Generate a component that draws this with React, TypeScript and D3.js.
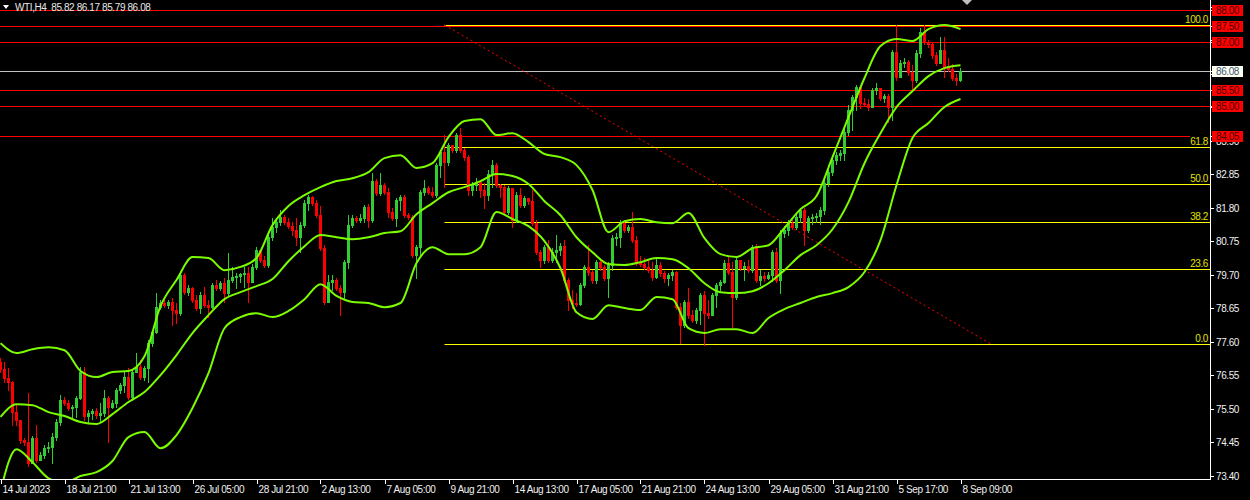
import React from "react";
import * as d3 from "d3";

// WTI H4 candles (open of each bar = close of the bar before)
const firstOpen = 76.97;
const closes = [
  76.75, 76.47, 76.34, 75.40, 75.15, 74.52, 74.46, 73.80, 74.59, 73.90,
  74.05, 74.27, 74.30, 74.62, 75.09, 75.78, 75.68, 75.53, 75.56, 75.84,
  76.66, 75.28, 75.37, 75.43, 75.31, 75.37, 75.84, 75.56, 75.68, 76.09,
  76.25, 76.50, 75.87, 76.66, 76.81, 76.50, 76.78, 77.56, 77.91, 78.69,
  78.82, 78.75, 78.85, 78.60, 78.50, 79.69, 79.16, 79.29, 78.91, 78.66,
  79.07, 78.75, 78.69, 79.38, 79.29, 79.44, 79.13, 79.54, 79.63, 79.67,
  79.73, 79.76, 79.48, 79.95, 80.48, 80.16, 80.01, 80.88, 81.20, 81.35,
  81.51, 81.35, 81.23, 81.10, 80.88, 81.26, 81.95, 82.14, 81.95, 81.57,
  80.54, 78.85, 79.48, 79.54, 79.29, 79.16, 80.10, 81.26, 81.48, 81.42,
  81.48, 81.83, 81.42, 82.64, 82.26, 82.51, 82.29, 81.67, 81.48, 82.04,
  82.14, 81.57, 81.51, 80.32, 80.57, 82.29, 82.42, 82.29, 82.20, 83.14,
  83.55, 83.23, 83.77, 83.61, 84.08, 83.61, 83.39, 82.36, 82.51, 82.61,
  82.36, 82.20, 82.86, 83.14, 82.51, 82.45, 81.67, 82.42, 81.42, 82.20,
  81.89, 82.11, 82.01, 81.32, 80.41, 80.16, 80.57, 80.16, 80.41, 80.48,
  80.60, 79.54, 78.91, 78.82, 78.79, 79.38, 79.95, 79.79, 79.54, 80.10,
  79.95, 79.60, 80.01, 80.85, 80.88, 81.32, 81.10, 81.20, 80.79, 80.07,
  80.04, 79.95, 79.85, 79.63, 80.01, 79.76, 79.60, 79.69, 79.79, 78.69,
  78.13, 78.85, 78.44, 78.28, 78.60, 79.07, 78.50, 78.44, 79.07, 79.38,
  79.48, 80.07, 79.79, 79.01, 80.16, 79.91, 79.98, 79.85, 80.57, 79.54,
  79.66, 79.60, 79.69, 80.41, 79.54, 81.01, 81.10, 81.32, 81.20, 81.51,
  81.73, 81.10, 81.48, 81.51, 81.54, 81.73, 82.58, 82.92, 83.30, 83.45,
  83.52, 84.17, 84.86, 85.27, 85.58, 85.08, 85.05, 84.96, 85.49, 85.55,
  85.24, 85.30, 84.96, 86.68, 85.90, 86.34, 86.37, 86.05, 85.80, 86.65,
  87.31, 86.99, 86.93, 86.59, 86.34, 86.74, 86.21, 86.15, 85.87, 85.82,
  86.08,
];
const highs = [
  77.09, 76.97, 76.78, 76.37, 75.62, 75.00, 74.59, 76.00, 74.65, 75.00,
  74.15, 74.37, 74.46, 74.74, 75.18, 75.94, 75.87, 75.78, 75.62, 75.90,
  76.81, 76.81, 75.46, 75.50, 75.53, 75.68, 76.09, 75.90, 75.78, 76.15,
  76.31, 76.66, 76.78, 76.72, 77.25, 77.03, 76.84, 77.66, 77.97, 79.13,
  78.91, 78.91, 78.91, 78.97, 78.82, 79.79, 79.76, 79.38, 79.32, 79.07,
  79.16, 79.32, 78.91, 79.44, 79.54, 79.51, 79.60, 80.38, 79.95, 79.76,
  79.76, 79.95, 79.95, 80.04, 80.57, 80.48, 80.29, 80.95, 81.48, 81.48,
  81.73, 81.57, 81.48, 81.35, 81.48, 81.35, 82.04, 82.20, 82.17, 82.04,
  81.86, 80.63, 79.69, 79.69, 79.60, 79.38, 80.16, 81.57, 81.57, 81.54,
  81.60, 81.89, 81.92, 82.89, 82.70, 82.89, 82.58, 82.42, 81.80, 82.11,
  82.20, 82.20, 81.64, 81.57, 80.63, 82.36, 82.67, 82.48, 82.45, 83.20,
  83.61, 84.08, 83.83, 83.77, 84.14, 84.30, 83.67, 83.45, 82.61, 82.73,
  82.67, 82.58, 82.98, 83.30, 83.20, 82.54, 82.51, 82.48, 82.42, 82.29,
  82.42, 82.17, 82.11, 82.36, 81.42, 80.48, 80.63, 80.79, 80.54, 80.95,
  80.70, 80.79, 79.60, 79.23, 79.13, 79.44, 80.01, 80.63, 79.85, 80.16,
  80.23, 80.01, 80.10, 80.95, 81.01, 81.42, 81.38, 81.26, 81.67, 80.92,
  80.29, 80.23, 80.16, 80.10, 80.23, 80.10, 79.82, 79.76, 79.85, 79.82,
  78.82, 78.91, 79.29, 78.60, 78.66, 79.13, 79.19, 78.91, 79.13, 79.44,
  79.54, 80.16, 80.26, 80.10, 80.23, 80.10, 80.10, 80.16, 80.63, 80.67,
  79.85, 79.79, 79.79, 80.48, 80.54, 81.10, 81.23, 81.42, 81.42, 81.60,
  81.80, 81.80, 81.54, 81.60, 81.64, 81.83, 82.67, 83.14, 83.45, 83.55,
  83.61, 84.30, 85.02, 85.33, 85.65, 85.55, 85.24, 85.21, 85.55, 85.71,
  85.55, 85.36, 85.36, 86.74, 87.53, 86.43, 86.49, 86.43, 86.27, 86.74,
  87.43, 87.53, 87.06, 86.99, 86.68, 87.15, 87.15, 86.49, 86.30, 85.99,
  86.17,
];
const lows = [
  76.66, 76.34, 76.09, 75.00, 75.00, 74.43, 74.37, 73.71, 73.84, 73.84,
  73.90, 73.96, 74.15, 73.80, 74.52, 75.00, 75.62, 75.46, 75.25, 75.25,
  75.81, 75.15, 75.09, 75.18, 75.21, 75.09, 75.28, 74.46, 75.53, 75.56,
  76.00, 76.03, 75.81, 75.78, 76.66, 76.44, 76.41, 76.34, 77.47, 77.88,
  78.63, 78.69, 78.66, 78.13, 78.19, 78.44, 79.10, 79.07, 78.85, 78.60,
  78.50, 78.69, 78.38, 78.66, 79.23, 79.23, 78.85, 79.07, 79.48, 79.29,
  79.48, 79.32, 78.85, 79.48, 79.88, 80.10, 79.95, 79.95, 80.79, 81.04,
  81.26, 81.29, 81.17, 80.95, 80.64, 80.41, 81.20, 81.73, 81.89, 81.51,
  80.48, 78.79, 78.85, 79.23, 79.23, 78.44, 78.97, 79.91, 81.20, 81.35,
  81.35, 81.35, 81.20, 81.35, 82.20, 82.20, 82.23, 81.51, 81.42, 81.23,
  81.73, 81.51, 81.45, 80.26, 79.60, 80.32, 82.20, 82.23, 82.14, 82.14,
  82.76, 82.45, 83.14, 83.55, 83.55, 83.55, 83.30, 82.20, 82.20, 82.36,
  82.14, 81.80, 82.04, 82.45, 82.45, 82.14, 81.61, 81.61, 81.20, 81.35,
  81.83, 81.83, 81.92, 81.26, 80.35, 79.95, 80.07, 80.10, 80.10, 80.10,
  80.32, 79.48, 78.60, 78.66, 78.72, 78.75, 79.32, 79.69, 79.44, 79.44,
  79.85, 79.54, 79.01, 79.85, 80.63, 80.57, 81.04, 81.04, 80.73, 80.01,
  79.98, 79.88, 79.79, 79.54, 79.60, 79.66, 79.48, 79.38, 79.54, 78.63,
  77.56, 78.07, 78.35, 78.22, 78.19, 78.16, 77.50, 78.35, 78.44, 78.69,
  79.23, 79.44, 79.73, 78.07, 78.94, 79.85, 79.54, 79.79, 79.79, 79.48,
  79.38, 79.51, 79.57, 79.51, 79.48, 79.13, 80.88, 80.95, 81.13, 81.13,
  81.35, 80.63, 81.04, 81.29, 81.35, 81.29, 81.61, 82.48, 82.83, 83.17,
  83.30, 83.30, 84.08, 84.24, 84.86, 84.93, 84.99, 84.86, 85.02, 85.36,
  85.18, 85.11, 84.49, 84.55, 85.80, 86.05, 86.21, 85.96, 85.49, 85.74,
  86.52, 86.93, 86.84, 86.49, 86.27, 86.37, 85.90, 86.09, 85.80, 85.65,
  85.79,
];

// Bollinger bands, one reading every 4 bars
const bandStep = 4;
const upperBand = [
  77.56, 77.25, 77.37, 77.43, 77.34, 76.69, 76.50, 76.66, 76.69, 77.15,
  78.72, 79.54, 80.26, 80.23, 79.85, 79.95, 80.23, 81.26, 81.86, 82.20,
  82.45, 82.64, 82.73, 82.92, 83.36, 83.45, 83.05, 83.20, 84.02, 84.52,
  84.58, 84.08, 84.14, 83.86, 83.49, 83.39, 83.14, 82.36, 81.04, 81.38,
  81.45, 81.35, 81.32, 81.64, 80.85, 80.35, 80.26, 80.54, 80.63, 81.17,
  81.76, 82.17, 83.39, 84.64, 85.87, 86.87, 87.09, 87.03, 87.40, 87.53,
  87.40,
];
const middleBand = [
  75.25, 75.65, 75.62, 75.40, 75.28, 75.09, 75.03, 75.34, 75.72, 76.03,
  76.56, 77.19, 77.88, 78.44, 78.94, 79.16, 79.35, 79.57, 80.13, 80.60,
  80.95, 80.88, 80.82, 80.88, 81.01, 81.07, 81.60, 81.95, 82.29, 82.45,
  82.64, 82.86, 82.80, 82.55, 82.01, 81.57, 80.88, 80.41, 80.04, 80.01,
  80.10, 80.23, 80.19, 79.91, 79.44, 79.16, 79.13, 79.19, 79.44, 79.85,
  80.32, 80.63, 81.13, 81.98, 83.20, 84.14, 84.96, 85.46, 85.93, 86.18,
  86.27,
];
const lowerBand = [
  72.93, 74.24, 73.83, 73.33, 73.18, 73.40, 73.52, 73.87, 74.62, 74.78,
  74.27, 74.68, 75.53, 76.62, 78.03, 78.38, 78.50, 78.38, 78.57, 78.94,
  79.41, 79.04, 78.85, 78.82, 78.69, 78.82, 80.07, 80.57, 80.35, 80.35,
  80.57, 81.67, 81.45, 81.23, 80.76, 79.91, 78.53, 78.32, 78.75, 78.66,
  78.60, 79.01, 78.94, 78.03, 77.88, 78.00, 78.00, 77.88, 78.35, 78.63,
  78.82, 79.01, 79.13, 79.32, 79.79, 80.79, 82.51, 83.99, 84.46, 84.96,
  85.21,
];

const labelStep = 16;
const timeLabels = [
  "14 Jul 2023", "18 Jul 21:00", "21 Jul 13:00", "26 Jul 05:00", "28 Jul 21:00",
  "2 Aug 13:00", "7 Aug 05:00", "9 Aug 21:00", "14 Aug 13:00", "17 Aug 05:00",
  "21 Aug 21:00", "24 Aug 13:00", "29 Aug 05:00", "31 Aug 21:00", "5 Sep 17:00",
  "8 Sep 09:00",
];
// scale labels that show (the ones under the price boxes only keep their tick)
const priceTicks = [
  73.40, 74.45, 75.50, 76.55, 77.60, 78.65, 79.70, 80.75, 81.80, 82.85, 83.90,
];
const hiddenTicks = [84.95, 86.00, 87.05, 88.10];
const levelLines = [88.00, 87.50, 87.00, 85.50, 85.00, 84.05];
const bidPrice = 86.08;
const fibLevels = [0, 23.6, 38.2, 50.0, 61.8, 100.0];
const fibHigh = 87.535;
const fibLow = 77.535;
const fibHighBar = 111;
const fibLowBar = 247.6;
const header = "WTI,H4  85.82 86.17 85.79 86.08";

const W = 1250;
const H = 500;
const plotRight = 1210;
const plotBottom = 479;
const font = "'Liberation Sans', Arial, sans-serif";

export default function App() {
  const x = d3.scaleLinear().domain([0, 240]).range([0.5, 960.5]);
  const y = d3.scaleLinear().domain([73.4, 88.0]).range([476, 10]);
  const fmt = d3.format(".2f");

  const candles = closes.map((c, i) => {
    const o = i === 0 ? firstOpen : closes[i - 1];
    const h = Math.max(highs[i], o, c);
    const l = Math.min(lows[i], o, c);
    return { i, o, h, l, c, up: c >= o };
  });

  const band = d3
    .line<number>()
    .x((_, k) => x(k * bandStep))
    .y((v) => y(v))
    .curve(d3.curveMonotoneX);

  const fibPrice = (lv: number) => fibLow + ((fibHigh - fibLow) * lv) / 100;

  return (
    <>
      <style>{`body{margin:0;background:#000;}`}</style>
      <svg width={W} height={H} style={{ display: "block", background: "#000" }} fontFamily={font}>
        <defs>
          <clipPath id="plot">
            <rect x={0} y={0} width={plotRight} height={plotBottom} />
          </clipPath>
        </defs>
        <rect x={0} y={0} width={W} height={H} fill="#000" />

        <g clipPath="url(#plot)">
          {/* horizontal level lines */}
          {levelLines.map((p) => (
            <line key={p} x1={0} x2={p === 84.05 ? 1190 : plotRight}
              y1={Math.round(y(p)) + 0.5} y2={Math.round(y(p)) + 0.5}
              stroke="#ff0000" strokeWidth={1} />
          ))}
          <line x1={0} x2={plotRight} y1={Math.round(y(bidPrice)) + 0.5} y2={Math.round(y(bidPrice)) + 0.5}
            stroke="#c0c0c0" strokeWidth={1} />

          {/* fibonacci */}
          {fibLevels.map((lv) => {
            const yy = Math.round(y(fibPrice(lv))) + 0.5;
            return (
              <g key={lv}>
                <line x1={x(fibHighBar)} x2={plotRight} y1={yy} y2={yy} stroke="#ffff00" strokeWidth={1} />
                <text x={1208} y={yy - 3} fontSize={10} letterSpacing={-0.4} fill="#e0e000" textAnchor="end">
                  {d3.format(".1f")(lv)}
                </text>
              </g>
            );
          })}
          <line x1={x(fibHighBar)} y1={y(fibHigh)} x2={x(fibLowBar)} y2={y(fibLow)}
            stroke="#ff0000" strokeWidth={1} strokeDasharray="2,3" />

          {/* candles */}
          {candles.map((d) => {
            const cx = x(d.i);
            const col = d.up ? "#32cd32" : "#ff0000";
            const top = Math.round(y(Math.max(d.o, d.c)));
            const bot = Math.round(y(Math.min(d.o, d.c)));
            return (
              <g key={d.i}>
                <line x1={cx} x2={cx} y1={Math.round(y(d.h))} y2={Math.round(y(d.l)) + 1} stroke={col} strokeWidth={1} />
                <rect x={cx - 1.5} y={top} width={3} height={Math.max(1, bot - top + 1)} fill={col} />
              </g>
            );
          })}

          {/* bollinger bands */}
          {[upperBand, middleBand, lowerBand].map((b, k) => (
            <path key={k} d={band(b) || ""} fill="none" stroke="#7cfc00" strokeWidth={2} />
          ))}
        </g>

        {/* axes */}
        <line x1={plotRight + 0.5} x2={plotRight + 0.5} y1={0} y2={plotBottom + 1} stroke="#fff" />
        <line x1={0} x2={plotRight + 1} y1={plotBottom + 0.5} y2={plotBottom + 0.5} stroke="#fff" />

        {hiddenTicks.map((p) => {
          const yy = Math.round(y(p)) + 0.5;
          return <line key={p} x1={plotRight} x2={plotRight + 4} y1={yy} y2={yy} stroke="#fff" />;
        })}
        {priceTicks.map((p) => {
          const yy = Math.round(y(p)) + 0.5;
          return (
            <g key={p}>
              <line x1={plotRight} x2={plotRight + 4} y1={yy} y2={yy} stroke="#fff" />
              <text x={1216} y={yy + 3.5} fontSize={10} letterSpacing={-0.4} fill="#f0f0f0">{fmt(p)}</text>
            </g>
          );
        })}

        {levelLines.map((p) => {
          const yy = Math.round(y(p)) + 0.5;
          return (
            <g key={p}>
              <line x1={plotRight} x2={plotRight + 4} y1={yy} y2={yy} stroke="#fff" />
              <rect x={1212} y={yy - 5.5} width={31} height={11} fill="#ff0000" />
              <text x={1216} y={yy + 3.5} fontSize={10} letterSpacing={-0.4} fill="#4a0000">{fmt(p)}</text>
            </g>
          );
        })}
        {(() => {
          const yy = Math.round(y(bidPrice)) + 0.5;
          return (
            <g>
              <line x1={plotRight} x2={plotRight + 4} y1={yy} y2={yy} stroke="#fff" />
              <rect x={1212} y={yy - 5.5} width={31} height={11} fill="#fffff0" />
              <text x={1216} y={yy + 3.5} fontSize={10} letterSpacing={-0.4} fill="#3a5878">{fmt(bidPrice)}</text>
            </g>
          );
        })()}

        {timeLabels.map((t, k) => {
          const xx = Math.round(x(k * labelStep)) + 0.5;
          return (
            <g key={t}>
              <line x1={xx} x2={xx} y1={plotBottom} y2={plotBottom + 5} stroke="#fff" />
              <text x={xx + 1} y={493} fontSize={10} letterSpacing={-0.4} fill="#f0f0f0">{t}</text>
            </g>
          );
        })}

        {/* header */}
        <path d="M3,5 L9,5 L6,9 Z" fill="#fff" />
        <text x={15} y={11} fontSize={10} letterSpacing={-0.4} fill="#e8e8e8" style={{ whiteSpace: "pre" }}>
          {header}
        </text>
        <path d="M962,0 L972,0 L967,5 Z" fill="#c0c0c0" />
      </svg>
    </>
  );
}
